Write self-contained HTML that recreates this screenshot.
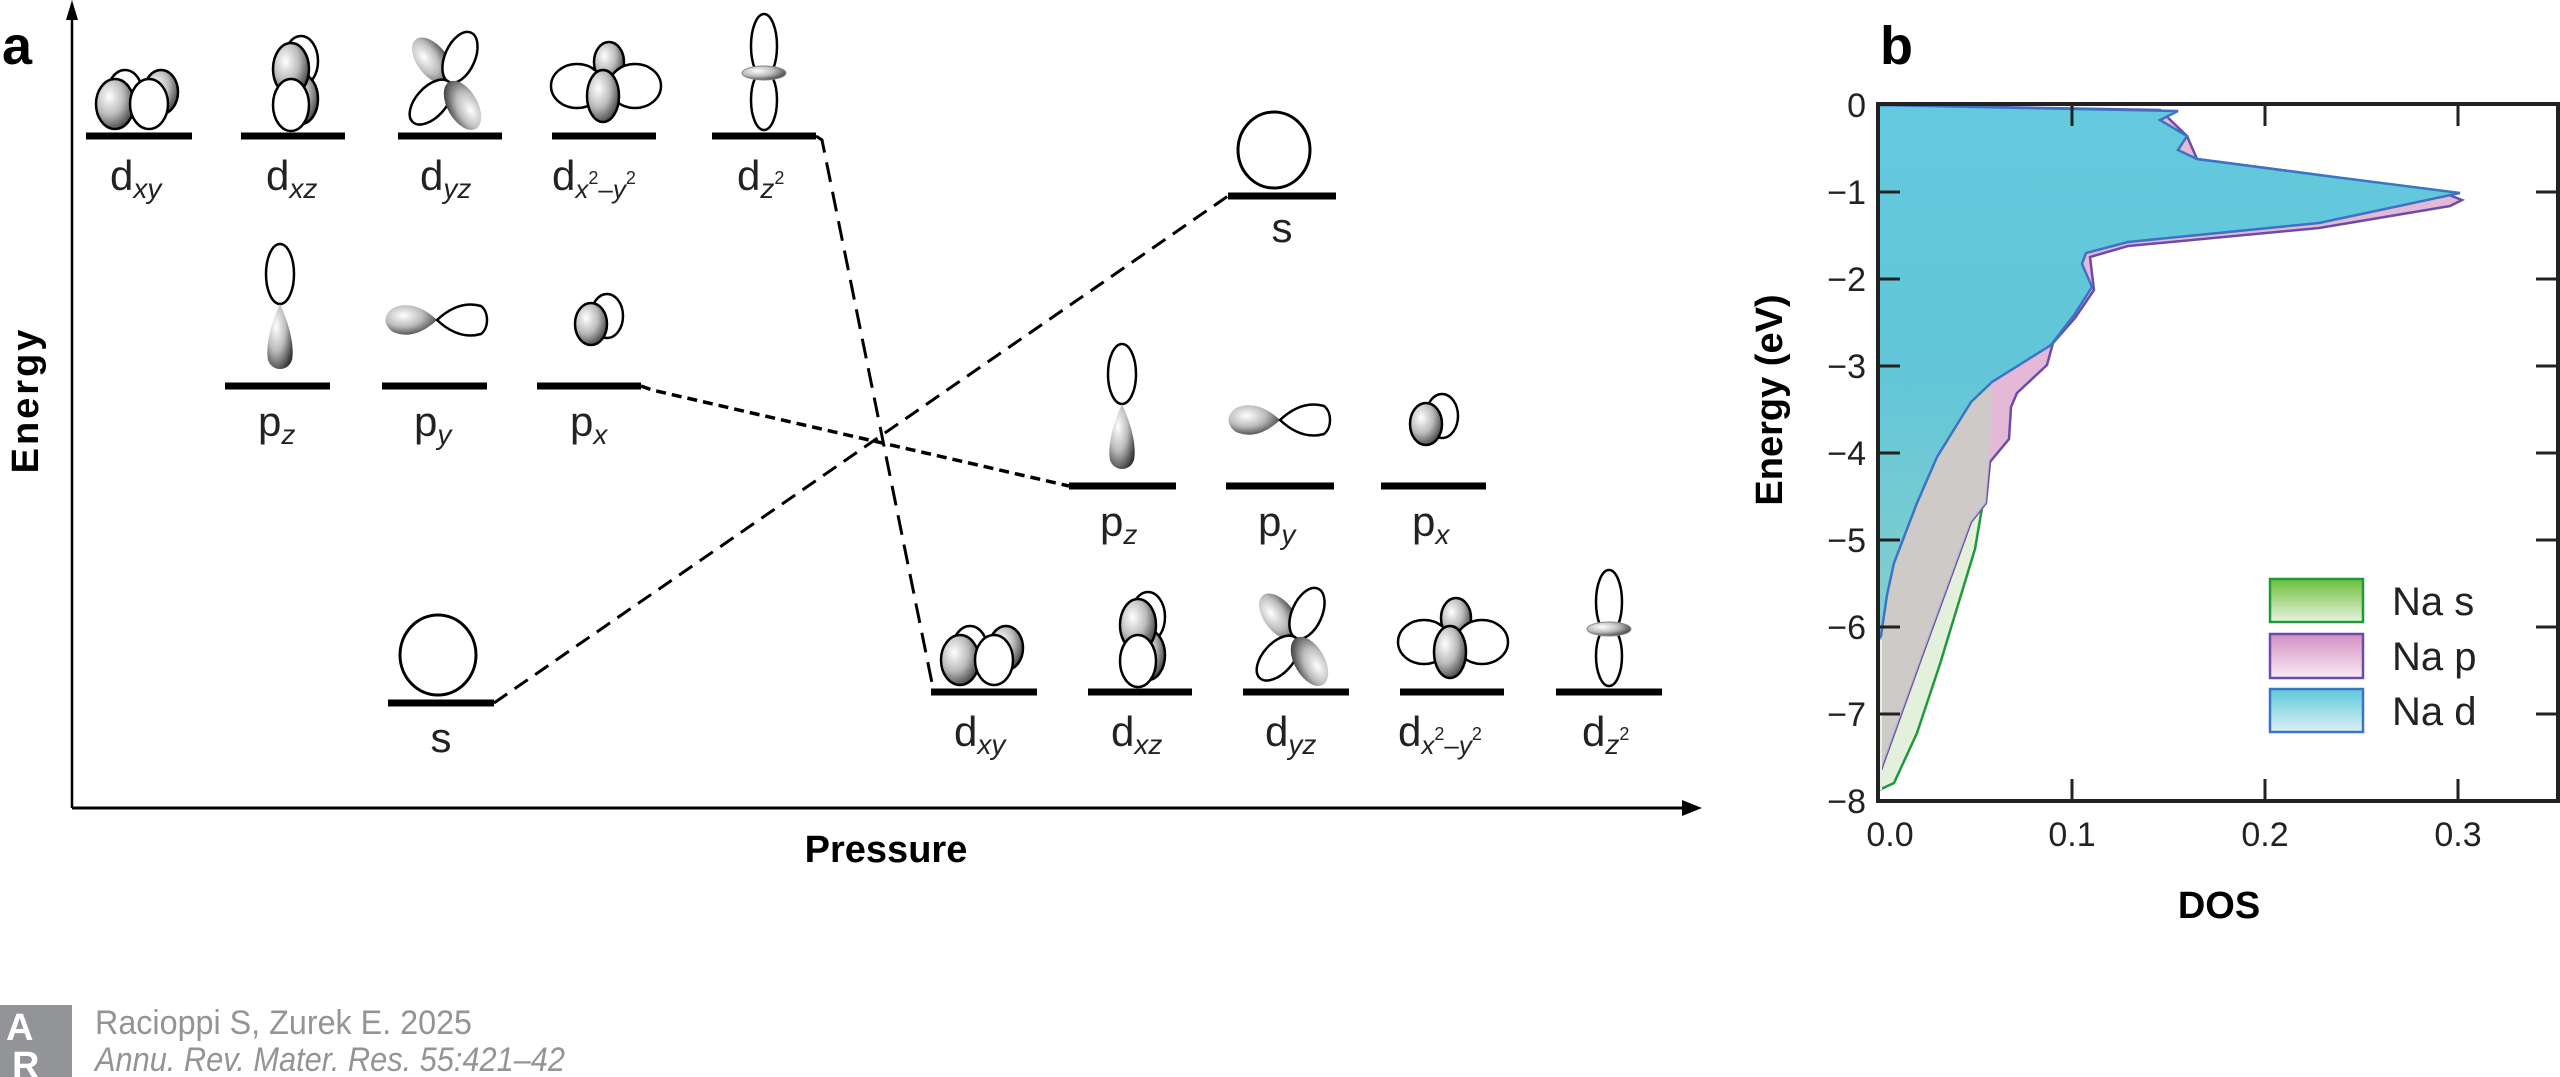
<!DOCTYPE html>
<html><head><meta charset="utf-8"><style>html,body{margin:0;padding:0;background:#fff}svg{display:block}</style></head>
<body>
<svg width="2560" height="1077" viewBox="0 0 2560 1077" xmlns="http://www.w3.org/2000/svg" font-family="Liberation Sans, sans-serif">
<defs>
<radialGradient id="sh" cx="0.35" cy="0.35" r="0.75"><stop offset="0" stop-color="#fff"/><stop offset="0.5" stop-color="#bbb"/><stop offset="1" stop-color="#333"/></radialGradient>
<linearGradient id="gs" x1="0" y1="0" x2="0" y2="1"><stop offset="0" stop-color="#6cbf3a"/><stop offset="1" stop-color="#e8f3e0"/></linearGradient>
<linearGradient id="gp" x1="0" y1="0" x2="0" y2="1"><stop offset="0" stop-color="#d58fc2"/><stop offset="1" stop-color="#f9eaf4"/></linearGradient>
<linearGradient id="gd" x1="0" y1="0" x2="0" y2="1"><stop offset="0" stop-color="#5ec8dd"/><stop offset="1" stop-color="#dcf0f5"/></linearGradient>
<linearGradient id="cy" gradientUnits="userSpaceOnUse" x1="0" y1="105" x2="0" y2="640"><stop offset="0" stop-color="#64c9df"/><stop offset="0.5" stop-color="#62c6d8"/><stop offset="1" stop-color="#86cfcc"/></linearGradient>
<g id="dxy" stroke="#000" stroke-width="2.5">
 <ellipse cx="-14" cy="-36" rx="17" ry="22" fill="#fff"/><ellipse cx="22" cy="-36" rx="17" ry="22" fill="url(#sh)"/>
 <ellipse cx="-24" cy="-24" rx="19" ry="25" fill="url(#sh)"/><ellipse cx="10" cy="-24" rx="19" ry="25" fill="#fff"/></g>
<g id="dxz" stroke="#000" stroke-width="2.5">
 <ellipse cx="8" cy="-70" rx="17" ry="25" fill="#fff"/><ellipse cx="8" cy="-32" rx="17" ry="25" fill="url(#sh)"/>
 <ellipse cx="-2" cy="-62" rx="18" ry="26" fill="url(#sh)"/><ellipse cx="-2" cy="-26" rx="18" ry="26" fill="#fff"/></g>
<g id="dyz" stroke="#000" stroke-width="2.5">
 <g transform="translate(0,-46)">
 <ellipse cx="0" cy="-27" rx="15" ry="27" transform="rotate(-38)" fill="url(#sh)" stroke="none"/>
 <ellipse cx="0" cy="-27" rx="15" ry="27" transform="rotate(24)" fill="#fff"/>
 <ellipse cx="0" cy="-27" rx="15" ry="27" transform="rotate(222)" fill="#fff"/>
 <ellipse cx="0" cy="-27" rx="15" ry="27" transform="rotate(150)" fill="url(#sh)" stroke="none"/>
 </g></g>
<g id="dx2" stroke="#000" stroke-width="2.5">
 <ellipse cx="4" cy="-62" rx="15" ry="20" fill="url(#sh)"/>
 <ellipse cx="-28" cy="-38" rx="26" ry="22" fill="#fff"/><ellipse cx="30" cy="-38" rx="26" ry="22" fill="#fff"/>
 <ellipse cx="-2" cy="-28" rx="16" ry="26" fill="url(#sh)"/></g>
<g id="dz2" stroke="#000" stroke-width="2.5">
 <ellipse cx="0" cy="-82" rx="13" ry="32" fill="#fff"/><ellipse cx="0" cy="-28" rx="13" ry="30" fill="#fff"/>
 <ellipse cx="0" cy="-55" rx="22" ry="7" fill="url(#sh)" stroke="#888" stroke-width="1"/></g>
<g id="pz" stroke="#000" stroke-width="2.5">
 <ellipse cx="0" cy="-96" rx="14" ry="30" fill="#fff"/><path d="M0,-66 C-12,-40 -14,-20 -12,-10 C-8,2 8,2 12,-10 C14,-20 12,-40 0,-66 Z" fill="url(#sh)" stroke="none"/></g>
<g id="py" stroke="#000" stroke-width="2.5">
 <path d="M0,0 C-15,-14 -30,-18 -44,-12 C-54,-5 -54,5 -44,12 C-30,18 -15,14 0,0 Z" fill="url(#sh)" stroke="none"/>
 <path d="M0,0 C15,-14 30,-18 44,-14 C52,-8 52,8 44,14 C30,18 15,14 0,0 Z" fill="#fff"/></g>
<g id="px" stroke="#000" stroke-width="2.5">
 <ellipse cx="10" cy="-6" rx="16" ry="22" fill="#fff"/><ellipse cx="-6" cy="2" rx="16" ry="21" fill="url(#sh)"/></g>
</defs>

<text x="2" y="64" font-size="54" font-weight="bold">a</text>
<line x1="72" y1="808" x2="72" y2="8" stroke="#000" stroke-width="2.5"/>
<polygon points="72,0 66,20 78,20" fill="#000"/>
<line x1="72" y1="808" x2="1690" y2="808" stroke="#000" stroke-width="3"/>
<polygon points="1702,808 1682,800 1682,816" fill="#000"/>
<text transform="translate(38,400) rotate(-90)" font-size="38" font-weight="bold" text-anchor="middle" letter-spacing="3">Energy</text>
<text x="886" y="862" font-size="38" font-weight="bold" text-anchor="middle">Pressure</text>

<g stroke="#000" stroke-width="7">
<line x1="86" y1="136" x2="192" y2="136"/><line x1="241" y1="136" x2="345" y2="136"/><line x1="398" y1="136" x2="502" y2="136"/><line x1="552" y1="136" x2="656" y2="136"/><line x1="712" y1="136" x2="816" y2="136"/>
<line x1="225" y1="386" x2="330" y2="386"/><line x1="382" y1="386" x2="487" y2="386"/><line x1="537" y1="386" x2="641" y2="386"/>
<line x1="388" y1="703" x2="494" y2="703"/>
<line x1="1228" y1="196" x2="1336" y2="196"/>
<line x1="1069" y1="486" x2="1176" y2="486"/><line x1="1226" y1="486" x2="1334" y2="486"/><line x1="1381" y1="486" x2="1486" y2="486"/>
<line x1="931" y1="692" x2="1037" y2="692"/><line x1="1088" y1="692" x2="1192" y2="692"/><line x1="1243" y1="692" x2="1349" y2="692"/><line x1="1400" y1="692" x2="1504" y2="692"/><line x1="1556" y1="692" x2="1662" y2="692"/>
</g>
<g fill="none" stroke="#000" stroke-width="3">
<polyline points="816,136 822,140 933,688" stroke-dasharray="20,10"/>
<polyline points="641,386 652,390 1069,486" stroke-dasharray="10,6" stroke-width="3.5"/>
<polyline points="494,703 1228,196" stroke-dasharray="16,9"/>
</g>

<use href="#dxy" x="139" y="128"/><use href="#dxz" x="293" y="131"/><use href="#dyz" x="449" y="128"/><use href="#dx2" x="605" y="124"/><use href="#dz2" x="764" y="128"/>
<use href="#pz" x="280" y="370"/><use href="#py" x="437" y="320"/><use href="#px" x="597" y="322"/>
<use href="#pz" x="1122" y="470"/><use href="#py" x="1280" y="420"/><use href="#px" x="1432" y="422"/>
<use href="#dxy" x="984" y="684"/><use href="#dxz" x="1140" y="687"/><use href="#dyz" x="1296" y="684"/><use href="#dx2" x="1452" y="680"/><use href="#dz2" x="1609" y="684"/>
<ellipse cx="438" cy="655" rx="38" ry="40" fill="#fff" stroke="#000" stroke-width="3"/>
<ellipse cx="1274" cy="150" rx="36" ry="38" fill="#fff" stroke="#000" stroke-width="3"/>

<g font-size="42" fill="#222">
<text x="110" y="190">d<tspan font-size="28" font-style="italic" dy="8">xy</tspan></text>
<text x="266" y="190">d<tspan font-size="28" font-style="italic" dy="8">xz</tspan></text>
<text x="420" y="190">d<tspan font-size="28" font-style="italic" dy="8">yz</tspan></text>
<text x="552" y="190">d<tspan font-size="26" font-style="italic" dy="8">x</tspan><tspan font-size="18" dy="-14">2</tspan><tspan font-size="26" dy="14">–</tspan><tspan font-size="26" font-style="italic">y</tspan><tspan font-size="18" dy="-14">2</tspan></text>
<text x="737" y="190">d<tspan font-size="28" font-style="italic" dy="8">z</tspan><tspan font-size="18" dy="-14">2</tspan></text>
<text x="258" y="436">p<tspan font-size="28" font-style="italic" dy="8">z</tspan></text>
<text x="414" y="436">p<tspan font-size="28" font-style="italic" dy="8">y</tspan></text>
<text x="570" y="436">p<tspan font-size="28" font-style="italic" dy="8">x</tspan></text>
<text x="441" y="752" text-anchor="middle">s</text>
<text x="1282" y="242" text-anchor="middle">s</text>
<text x="1100" y="536">p<tspan font-size="28" font-style="italic" dy="8">z</tspan></text>
<text x="1258" y="536">p<tspan font-size="28" font-style="italic" dy="8">y</tspan></text>
<text x="1412" y="536">p<tspan font-size="28" font-style="italic" dy="8">x</tspan></text>
<text x="954" y="746">d<tspan font-size="28" font-style="italic" dy="8">xy</tspan></text>
<text x="1111" y="746">d<tspan font-size="28" font-style="italic" dy="8">xz</tspan></text>
<text x="1265" y="746">d<tspan font-size="28" font-style="italic" dy="8">yz</tspan></text>
<text x="1398" y="746">d<tspan font-size="26" font-style="italic" dy="8">x</tspan><tspan font-size="18" dy="-14">2</tspan><tspan font-size="26" dy="14">–</tspan><tspan font-size="26" font-style="italic">y</tspan><tspan font-size="18" dy="-14">2</tspan></text>
<text x="1582" y="746">d<tspan font-size="28" font-style="italic" dy="8">z</tspan><tspan font-size="18" dy="-14">2</tspan></text>
</g>

<text x="1880" y="64" font-size="54" font-weight="bold">b</text>
<path d="M1878,384 L1992,384 1990,457 1982,508 1975,549 1961,595 1940,664 1917,733 1894,783 1879,790 Z" fill="#e3f0dc" stroke="#1e9a3a" stroke-width="2.5"/>
<path d="M1878,105 L2160,110 2187,136 2197,159 2319,175 2449,195 2462,200 2450,206 2319,228 2128,246 2090,257 2094,290 2075,318 2053,343 2047,365 2017,393 2011,407 2009,439 1990,462 1986,503 1971,522 1956,563 1921,659 1881,770 1878,775 Z" fill="#e6b8d8" stroke="#6a4cad" stroke-width="2.5"/>
<path d="M1878,384 L1992,384 1990,457 1986,503 1971,522 1956,563 1921,659 1881,770 L1878,775 Z" fill="#c9cdc4" opacity="0.85"/>
<path d="M1878,105 L2178,111 2160,120 2187,136 2178,150 2197,159 2319,175 2460,193 2319,223 2128,242 2086,253 2082,264 2092,287 2074,315 2051,345 1992,382 1971,402 1937,457 1917,503 1894,563 1887,595 1881,636 1878,640 Z" fill="url(#cy)" stroke="#3b74c4" stroke-width="2.5"/>
<rect x="1878" y="640" width="4" height="150" fill="#e8eee6"/>
<rect x="1878" y="104" width="680" height="697" fill="none" stroke="#222" stroke-width="4"/>
<g stroke="#222" stroke-width="3">
<line x1="2072" y1="104" x2="2072" y2="126"/><line x1="2265" y1="104" x2="2265" y2="126"/><line x1="2458" y1="104" x2="2458" y2="126"/>
<line x1="2072" y1="801" x2="2072" y2="779"/><line x1="2265" y1="801" x2="2265" y2="779"/><line x1="2458" y1="801" x2="2458" y2="779"/>
<line x1="1878" y1="192" x2="1900" y2="192"/><line x1="1878" y1="279" x2="1900" y2="279"/><line x1="1878" y1="366" x2="1900" y2="366"/><line x1="1878" y1="453" x2="1900" y2="453"/><line x1="1878" y1="540" x2="1900" y2="540"/><line x1="1878" y1="627" x2="1900" y2="627"/><line x1="1878" y1="714" x2="1900" y2="714"/>
<line x1="2536" y1="192" x2="2558" y2="192"/><line x1="2536" y1="279" x2="2558" y2="279"/><line x1="2536" y1="366" x2="2558" y2="366"/><line x1="2536" y1="453" x2="2558" y2="453"/><line x1="2536" y1="540" x2="2558" y2="540"/><line x1="2536" y1="627" x2="2558" y2="627"/><line x1="2536" y1="714" x2="2558" y2="714"/>
</g>
<g font-size="34" fill="#222" text-anchor="end">
<text x="1866" y="117">0</text><text x="1866" y="204">−1</text><text x="1866" y="291">−2</text><text x="1866" y="378">−3</text><text x="1866" y="465">−4</text><text x="1866" y="552">−5</text><text x="1866" y="639">−6</text><text x="1866" y="726">−7</text><text x="1866" y="813">−8</text>
</g>
<g font-size="34" fill="#222" text-anchor="middle">
<text x="1890" y="846">0.0</text><text x="2072" y="846">0.1</text><text x="2265" y="846">0.2</text><text x="2458" y="846">0.3</text>
</g>
<text transform="translate(1782,400) rotate(-90)" font-size="38" font-weight="bold" text-anchor="middle">Energy (eV)</text>
<text x="2219" y="918" font-size="38" font-weight="bold" text-anchor="middle">DOS</text>
<rect x="2270" y="579" width="93" height="43" fill="url(#gs)" stroke="#1e9a3a" stroke-width="2.5"/>
<rect x="2270" y="634" width="93" height="44" fill="url(#gp)" stroke="#6a4cad" stroke-width="2.5"/>
<rect x="2270" y="689" width="93" height="43" fill="url(#gd)" stroke="#3b74c4" stroke-width="2.5"/>
<g font-size="40" fill="#222">
<text x="2392" y="615">Na s</text><text x="2392" y="670">Na p</text><text x="2392" y="725">Na d</text>
</g>

<rect x="0" y="1005" width="72" height="72" fill="#929497"/>
<text x="6" y="1040" font-size="38" fill="#fff" font-weight="bold">A</text>
<text x="12" y="1078" font-size="38" fill="#fff" font-weight="bold">R</text>
<text x="95" y="1034" font-size="34" fill="#929497" textLength="377" lengthAdjust="spacingAndGlyphs">Racioppi S, Zurek E. 2025</text>
<text x="95" y="1071" font-size="34" fill="#929497" font-style="italic" textLength="470" lengthAdjust="spacingAndGlyphs">Annu. Rev. Mater. Res. 55:421–42</text>
</svg>
</body></html>
